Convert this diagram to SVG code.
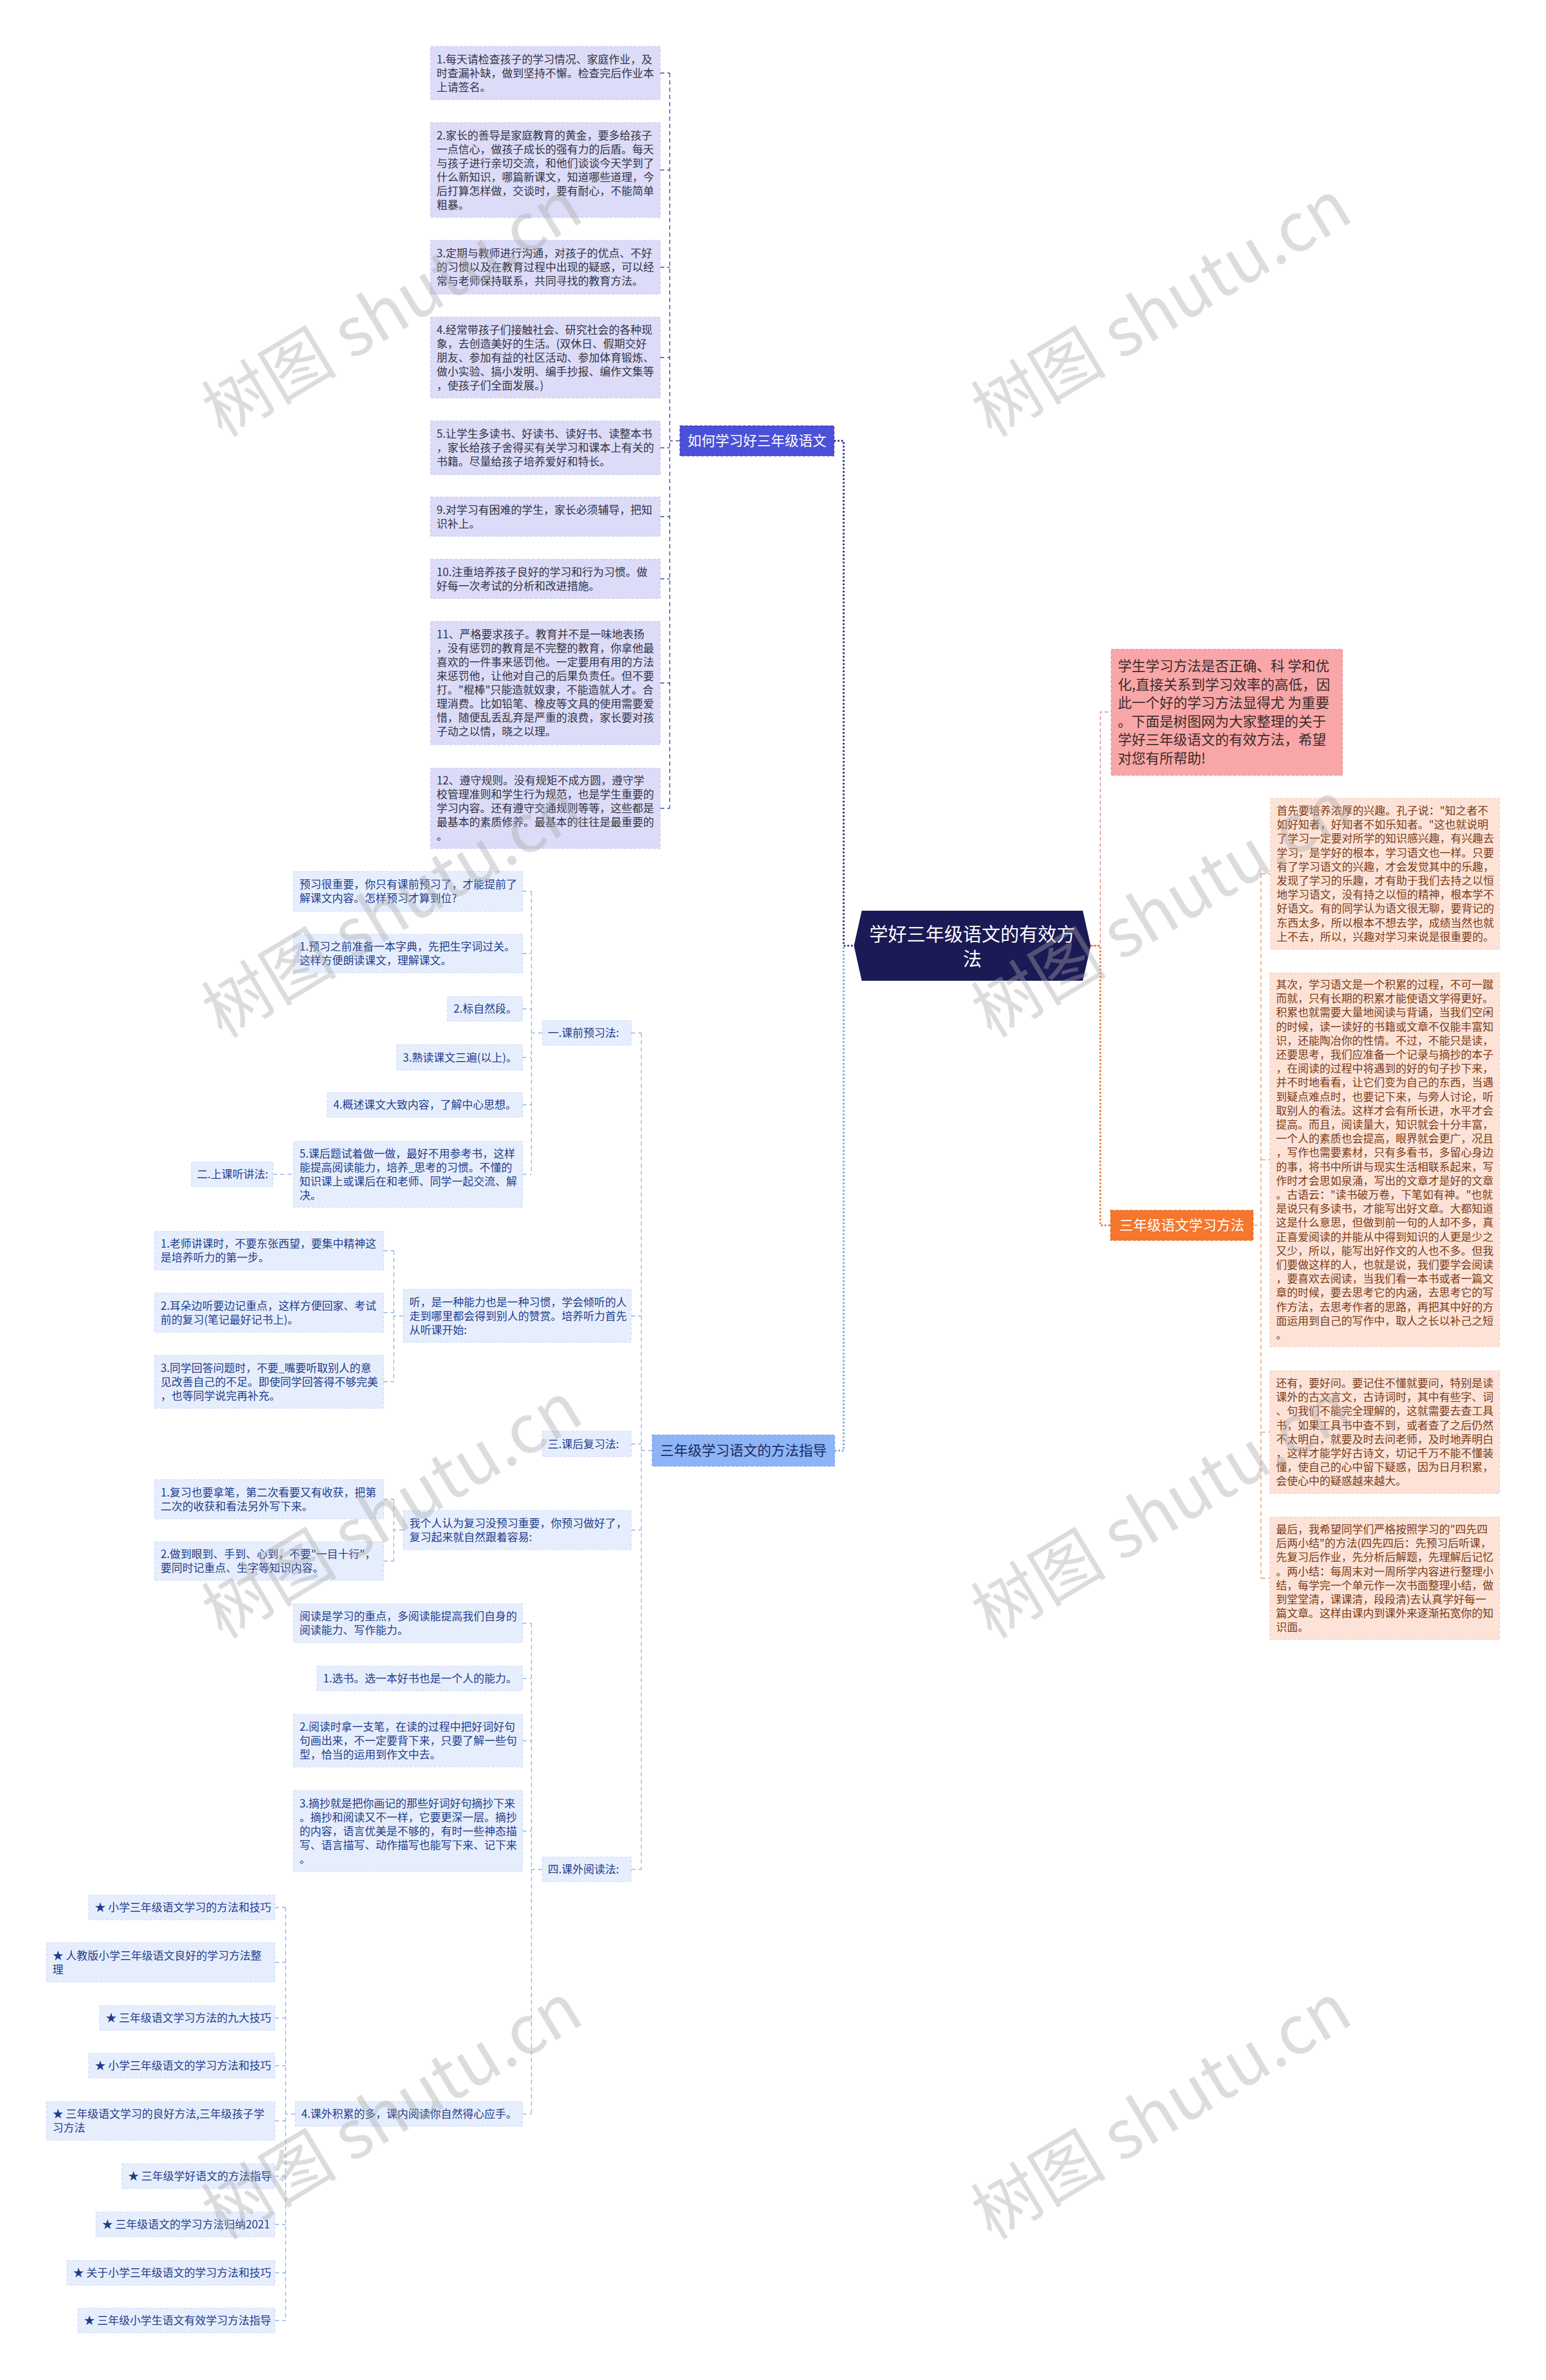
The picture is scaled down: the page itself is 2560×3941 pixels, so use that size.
<svg xmlns="http://www.w3.org/2000/svg" width="2560" height="3941" viewBox="0 0 2560 3941">
<style>
text{font-family:"Noto Sans CJK SC","Noto Sans",sans-serif;}
.t18{font-size:18px;}
.lav rect{fill:#dcdcf8;stroke:#c4c5ef;stroke-width:1.2;stroke-dasharray:5 3;}
.lav text{fill:#333344;}
.blu rect{fill:#e6eefd;stroke:#c9d9f7;stroke-width:1.2;stroke-dasharray:5 3;}
.blu text{fill:#1e3c8c;}
.pch rect{fill:#fde3d7;stroke:#f5c8b4;stroke-width:1.2;stroke-dasharray:5 3;}
.pch text{fill:#7a3b18;}
.cn path{fill:none;}
.c1{stroke:#3b3e98;stroke-width:1.4;stroke-dasharray:7 5;}
.c3{stroke:#8fb0ee;stroke-width:1.4;stroke-dasharray:7 5;}
.cr{stroke:#ec9660;stroke-width:1.4;stroke-dasharray:7 5;}
.wm{font-family:"Liberation Serif","Noto Sans CJK SC",serif;font-size:112px;fill:#a8a8a8;opacity:0.4;}
</style>
<rect x="0" y="0" width="2560" height="3941" fill="#ffffff"/>

<g id="connectors" class="cn">
  <path class="c1" d="M1126 730H1109M1109 121V1338.5M1093 121H1109M1093 281.5H1109M1093 442.5H1109M1093 592H1109M1093 741.5H1109M1093 855.5H1109M1093 958.5H1109M1093 1131H1109M1093 1338.5H1109"/>
  <path d="M1381 730H1397V1566H1414" stroke="#2f3290" stroke-width="3" stroke-dasharray="3 3" fill="none"/>
  <path d="M1382 2402H1397V1566" stroke="#7ea6ee" stroke-width="3" stroke-dasharray="3 3" fill="none"/>
  <path d="M1806 1566H1822V1179H1840" stroke="#f2a3a3" stroke-width="2" stroke-dasharray="6 4" fill="none"/>
  <path d="M1806 1566H1822V2029H1839" stroke="#ef7a32" stroke-width="3" stroke-dasharray="3 3" fill="none"/>
  <path class="cr" d="M2075 2029H2088M2088 1447V2613.5M2088 1447H2104M2088 1920.5H2103M2088 2371.5H2103M2088 2613.5H2103"/>
  <path class="c3" d="M1080 2402H1062M1062 1710.5V3095.5M1045 1710.5H1062M1045 2179H1062M1045 2391H1062M1045 2533.5H1062M1045 3095.5H1062"/>
  <path class="c3" d="M880 1476V1944.5M865 1476H880M865 1579H880M865 1670.5H880M865 1751H880M865 1829.5H880M865 1944.5H880M898 1710.5H880"/>
  <path class="c3" d="M452 1944.5H486"/>
  <path class="c3" d="M652 2071V2288M635 2071H652M635 2173.5H652M635 2288H652M668 2179H652"/>
  <path class="c3" d="M652 2482.5V2585M635 2482.5H652M635 2585H652M668 2533.5H652"/>
  <path class="c3" d="M880 2688V3500.5M865 2688H880M865 2779.5H880M865 2882.5H880M865 3032H880M865 3500.5H880M898 3095.5H880"/>
  <path class="c3" d="M473 3158.5V3842.5M489 3500.5H473M455 3158.5H473M455 3249.5H473M455 3341.5H473M455 3420.5H473M455 3512H473M455 3603.5H473M455 3683.5H473M455 3763.5H473M455 3842.5H473"/>
</g>

<g id="root">
  <polygon points="1414,1566 1427,1508 1793,1508 1806,1566 1793,1624 1427,1624" fill="#1b1a56"/>
  <text x="1610" y="1558" text-anchor="middle" font-size="31" fill="#ffffff">学好三年级语文的有效方</text>
  <text x="1610" y="1599" text-anchor="middle" font-size="31" fill="#ffffff">法</text>
</g>

<g id="branch-how">
  <rect x="1126" y="705" width="255" height="50" fill="#4b50d9" stroke="#3236a8" stroke-width="1.2" stroke-dasharray="5 3"/>
  <text x="1253.5" y="738" text-anchor="middle" font-size="23" fill="#ffffff">如何学习好三年级语文</text>
</g>
<g id="branch-guide">
  <rect x="1080" y="2376" width="302" height="52" fill="#8db4f6" stroke="#7aa2ea" stroke-width="1.2" stroke-dasharray="5 3"/>
  <text x="1231" y="2410" text-anchor="middle" font-size="23" fill="#1b2a5e">三年级学习语文的方法指导</text>
</g>
<g id="intro">
  <rect x="1840" y="1075" width="383" height="209" fill="#f8a6a7" stroke="#f08f90" stroke-width="1.2" stroke-dasharray="5 3"/>
  <text font-size="23" fill="#3a2b2b"><tspan x="1851" y="1111">学生学习方法是否正确、科 学和优</tspan><tspan x="1851" dy="30.5">化,直接关系到学习效率的高低，因</tspan><tspan x="1851" dy="30.5">此一个好的学习方法显得尤 为重要</tspan><tspan x="1851" dy="30.5">。下面是树图网为大家整理的关于</tspan><tspan x="1851" dy="30.5">学好三年级语文的有效方法，希望</tspan><tspan x="1851" dy="30.5">对您有所帮助!</tspan></text>
</g>
<g id="branch-method">
  <rect x="1839" y="2004" width="236" height="50" fill="#f5762d" stroke="#e0611a" stroke-width="1.2" stroke-dasharray="5 3"/>
  <text x="1957" y="2037" text-anchor="middle" font-size="23" fill="#ffffff">三年级语文学习方法</text>
</g>

<g id="n1" class="lav t18"><rect x="713" y="77" width="380" height="88"/><text><tspan x="723" y="104.5">1.每天请检查孩子的学习情况、家庭作业，及</tspan><tspan x="723" dy="23">时查漏补缺，做到坚持不懈。检查完后作业本</tspan><tspan x="723" dy="23">上请签名。</tspan></text></g>
<g id="n2" class="lav t18"><rect x="713" y="203" width="380" height="157"/><text><tspan x="723" y="230.5">2.家长的善导是家庭教育的黄金，要多给孩子</tspan><tspan x="723" dy="23">一点信心，做孩子成长的强有力的后盾。每天</tspan><tspan x="723" dy="23">与孩子进行亲切交流，和他们谈谈今天学到了</tspan><tspan x="723" dy="23">什么新知识，哪篇新课文，知道哪些道理，今</tspan><tspan x="723" dy="23">后打算怎样做，交谈时，要有耐心，不能简单</tspan><tspan x="723" dy="23">粗暴。</tspan></text></g>
<g id="n3" class="lav t18"><rect x="713" y="398" width="380" height="89"/><text><tspan x="723" y="426">3.定期与教师进行沟通，对孩子的优点、不好</tspan><tspan x="723" dy="23">的习惯以及在教育过程中出现的疑惑，可以经</tspan><tspan x="723" dy="23">常与老师保持联系，共同寻找的教育方法。</tspan></text></g>
<g id="n4" class="lav t18"><rect x="713" y="525" width="380" height="134"/><text><tspan x="723" y="552.5">4.经常带孩子们接触社会、研究社会的各种现</tspan><tspan x="723" dy="23">象，去创造美好的生活。(双休日、假期交好</tspan><tspan x="723" dy="23">朋友、参加有益的社区活动、参加体育锻炼、</tspan><tspan x="723" dy="23">做小实验、搞小发明、编手抄报、编作文集等</tspan><tspan x="723" dy="23">，使孩子们全面发展。)</tspan></text></g>
<g id="n5" class="lav t18"><rect x="713" y="697" width="380" height="89"/><text><tspan x="723" y="725">5.让学生多读书、好读书、读好书、读整本书</tspan><tspan x="723" dy="23">，家长给孩子舍得买有关学习和课本上有关的</tspan><tspan x="723" dy="23">书籍。尽量给孩子培养爱好和特长。</tspan></text></g>
<g id="n9" class="lav t18"><rect x="713" y="823" width="380" height="65"/><text><tspan x="723" y="850.5">9.对学习有困难的学生，家长必须辅导，把知</tspan><tspan x="723" dy="23">识补上。</tspan></text></g>
<g id="n10" class="lav t18"><rect x="713" y="926" width="380" height="65"/><text><tspan x="723" y="953.5">10.注重培养孩子良好的学习和行为习惯。做</tspan><tspan x="723" dy="23">好每一次考试的分析和改进措施。</tspan></text></g>
<g id="n11" class="lav t18"><rect x="713" y="1029" width="380" height="204"/><text><tspan x="723" y="1057">11、严格要求孩子。教育并不是一味地表扬</tspan><tspan x="723" dy="23">，没有惩罚的教育是不完整的教育，你拿他最</tspan><tspan x="723" dy="23">喜欢的一件事来惩罚他。一定要用有用的方法</tspan><tspan x="723" dy="23">来惩罚他，让他对自己的后果负责任。但不要</tspan><tspan x="723" dy="23">打。"棍棒"只能造就奴隶，不能造就人才。合</tspan><tspan x="723" dy="23">理消费。比如铅笔、橡皮等文具的使用需要爱</tspan><tspan x="723" dy="23">惜，随便乱丢乱弃是严重的浪费，家长要对孩</tspan><tspan x="723" dy="23">子动之以情，晓之以理。</tspan></text></g>
<g id="n12" class="lav t18"><rect x="713" y="1272" width="380" height="133"/><text><tspan x="723" y="1299">12、遵守规则。没有规矩不成方圆，遵守学</tspan><tspan x="723" dy="23">校管理准则和学生行为规范，也是学生重要的</tspan><tspan x="723" dy="23">学习内容。还有遵守交通规则等等，这些都是</tspan><tspan x="723" dy="23">最基本的素质修养。最基本的往往是最重要的</tspan><tspan x="723" dy="23">。</tspan></text></g>

<g id="r1" class="pch t18"><rect x="2104" y="1322" width="379" height="250"/><text><tspan x="2114" y="1349">首先要培养浓厚的兴趣。孔子说："知之者不</tspan><tspan x="2114" dy="23.2">如好知者，好知者不如乐知者。"这也就说明</tspan><tspan x="2114" dy="23.2">了学习一定要对所学的知识感兴趣，有兴趣去</tspan><tspan x="2114" dy="23.2">学习，是学好的根本，学习语文也一样。只要</tspan><tspan x="2114" dy="23.2">有了学习语文的兴趣，才会发觉其中的乐趣，</tspan><tspan x="2114" dy="23.2">发现了学习的乐趣，才有助于我们去持之以恒</tspan><tspan x="2114" dy="23.2">地学习语文，没有持之以恒的精神，根本学不</tspan><tspan x="2114" dy="23.2">好语文。有的同学认为语文很无聊，要背记的</tspan><tspan x="2114" dy="23.2">东西太多，所以根本不想去学，成绩当然也就</tspan><tspan x="2114" dy="23.2">上不去，所以，兴趣对学习来说是很重要的。</tspan></text></g>
<g id="r2" class="pch t18"><rect x="2103" y="1611" width="380" height="619"/><text><tspan x="2113" y="1637">其次，学习语文是一个积累的过程，不可一蹴</tspan><tspan x="2113" dy="23.2">而就，只有长期的积累才能使语文学得更好。</tspan><tspan x="2113" dy="23.2">积累也就需要大量地阅读与背诵，当我们空闲</tspan><tspan x="2113" dy="23.2">的时候，读一读好的书籍或文章不仅能丰富知</tspan><tspan x="2113" dy="23.2">识，还能陶冶你的性情。不过，不能只是读，</tspan><tspan x="2113" dy="23.2">还要思考，我们应准备一个记录与摘抄的本子</tspan><tspan x="2113" dy="23.2">，在阅读的过程中将遇到的好的句子抄下来，</tspan><tspan x="2113" dy="23.2">并不时地看看，让它们变为自己的东西，当遇</tspan><tspan x="2113" dy="23.2">到疑点难点时，也要记下来，与旁人讨论，听</tspan><tspan x="2113" dy="23.2">取别人的看法。这样才会有所长进，水平才会</tspan><tspan x="2113" dy="23.2">提高。而且，阅读量大，知识就会十分丰富，</tspan><tspan x="2113" dy="23.2">一个人的素质也会提高，眼界就会更广，况且</tspan><tspan x="2113" dy="23.2">，写作也需要素材，只有多看书，多留心身边</tspan><tspan x="2113" dy="23.2">的事，将书中所讲与现实生活相联系起来，写</tspan><tspan x="2113" dy="23.2">作时才会思如泉涌，写出的文章才是好的文章</tspan><tspan x="2113" dy="23.2">。古语云："读书破万卷，下笔如有神。"也就</tspan><tspan x="2113" dy="23.2">是说只有多读书，才能写出好文章。大都知道</tspan><tspan x="2113" dy="23.2">这是什么意思，但做到前一句的人却不多，真</tspan><tspan x="2113" dy="23.2">正喜爱阅读的并能从中得到知识的人更是少之</tspan><tspan x="2113" dy="23.2">又少，所以，能写出好作文的人也不多。但我</tspan><tspan x="2113" dy="23.2">们要做这样的人，也就是说，我们要学会阅读</tspan><tspan x="2113" dy="23.2">，要喜欢去阅读，当我们看一本书或者一篇文</tspan><tspan x="2113" dy="23.2">章的时候，要去思考它的内涵，去思考它的写</tspan><tspan x="2113" dy="23.2">作方法，去思考作者的思路，再把其中好的方</tspan><tspan x="2113" dy="23.2">面运用到自己的写作中，取人之长以补己之短</tspan><tspan x="2113" dy="23.2">。</tspan></text></g>
<g id="r3" class="pch t18"><rect x="2103" y="2270" width="380" height="203"/><text><tspan x="2113" y="2297">还有，要好问。要记住不懂就要问，特别是读</tspan><tspan x="2113" dy="23.2">课外的古文言文，古诗词时，其中有些字、词</tspan><tspan x="2113" dy="23.2">、句我们不能完全理解的，这就需要去查工具</tspan><tspan x="2113" dy="23.2">书，如果工具书中查不到，或者查了之后仍然</tspan><tspan x="2113" dy="23.2">不太明白，就要及时去问老师，及时地弄明白</tspan><tspan x="2113" dy="23.2">，这样才能学好古诗文，切记千万不能不懂装</tspan><tspan x="2113" dy="23.2">懂，使自己的心中留下疑惑，因为日月积累，</tspan><tspan x="2113" dy="23.2">会使心中的疑惑越来越大。</tspan></text></g>
<g id="r4" class="pch t18"><rect x="2103" y="2512" width="380" height="203"/><text><tspan x="2113" y="2539">最后，我希望同学们严格按照学习的"四先四</tspan><tspan x="2113" dy="23.2">后两小结"的方法(四先四后：先预习后听课，</tspan><tspan x="2113" dy="23.2">先复习后作业，先分析后解题，先理解后记忆</tspan><tspan x="2113" dy="23.2">。两小结：每周末对一周所学内容进行整理小</tspan><tspan x="2113" dy="23.2">结，每学完一个单元作一次书面整理小结，做</tspan><tspan x="2113" dy="23.2">到堂堂清，课课清，段段清)去认真学好每一</tspan><tspan x="2113" dy="23.2">篇文章。这样由课内到课外来逐渐拓宽你的知</tspan><tspan x="2113" dy="23.2">识面。</tspan></text></g>

<g id="s1" class="blu t18"><rect x="898" y="1690" width="147" height="41"/><text x="907" y="1717">一.课前预习法:</text></g>
<g id="p0" class="blu t18"><rect x="486" y="1443" width="379" height="66"/><text><tspan x="496" y="1471">预习很重要，你只有课前预习了，才能提前了</tspan><tspan x="496" dy="23">解课文内容。怎样预习才算到位?</tspan></text></g>
<g id="p1" class="blu t18"><rect x="486" y="1547" width="379" height="64"/><text><tspan x="496" y="1574">1.预习之前准备一本字典，先把生字词过关。</tspan><tspan x="496" dy="23">这样方便朗读课文，理解课文。</tspan></text></g>
<g id="p2" class="blu t18"><rect x="741" y="1650" width="124" height="41"/><text x="751" y="1677">2.标自然段。</text></g>
<g id="p3" class="blu t18"><rect x="657" y="1730" width="208" height="42"/><text x="667" y="1757.5">3.熟读课文三遍(以上)。</text></g>
<g id="p4" class="blu t18"><rect x="542" y="1809" width="323" height="41"/><text x="552" y="1836">4.概述课文大致内容，了解中心思想。</text></g>
<g id="p5" class="blu t18"><rect x="486" y="1890" width="379" height="109"/><text><tspan x="496" y="1916.5">5.课后题试着做一做，最好不用参考书，这样</tspan><tspan x="496" dy="23">能提高阅读能力，培养_思考的习惯。不懂的</tspan><tspan x="496" dy="23">知识课上或课后在和老师、同学一起交流、解</tspan><tspan x="496" dy="23">决。</tspan></text></g>
<g id="s2" class="blu t18"><rect x="317" y="1924" width="135" height="41"/><text x="326" y="1951">二.上课听讲法:</text></g>
<g id="l0" class="blu t18"><rect x="668" y="2135" width="377" height="88"/><text><tspan x="678" y="2162.5">听，是一种能力也是一种习惯，学会倾听的人</tspan><tspan x="678" dy="23">走到哪里都会得到别人的赞赏。培养听力首先</tspan><tspan x="678" dy="23">从听课开始:</tspan></text></g>
<g id="l1" class="blu t18"><rect x="256" y="2039" width="379" height="64"/><text><tspan x="266" y="2066">1.老师讲课时，不要东张西望，要集中精神这</tspan><tspan x="266" dy="23">是培养听力的第一步。</tspan></text></g>
<g id="l2" class="blu t18"><rect x="256" y="2141" width="379" height="65"/><text><tspan x="266" y="2168.5">2.耳朵边听要边记重点，这样方便回家、考试</tspan><tspan x="266" dy="23">前的复习(笔记最好记书上)。</tspan></text></g>
<g id="l3" class="blu t18"><rect x="256" y="2244" width="379" height="88"/><text><tspan x="266" y="2271.5">3.同学回答问题时，不要_嘴要听取别人的意</tspan><tspan x="266" dy="23">见改善自己的不足。即使同学回答得不够完美</tspan><tspan x="266" dy="23">，也等同学说完再补充。</tspan></text></g>
<g id="s3" class="blu t18"><rect x="898" y="2370" width="147" height="42"/><text x="907" y="2397.5">三.课后复习法:</text></g>
<g id="f0" class="blu t18"><rect x="668" y="2501" width="377" height="65"/><text><tspan x="678" y="2528.5">我个人认为复习没预习重要，你预习做好了，</tspan><tspan x="678" dy="23">复习起来就自然跟着容易:</tspan></text></g>
<g id="f1" class="blu t18"><rect x="256" y="2450" width="379" height="65"/><text><tspan x="266" y="2477.5">1.复习也要拿笔，第二次看要又有收获，把第</tspan><tspan x="266" dy="23">二次的收获和看法另外写下来。</tspan></text></g>
<g id="f2" class="blu t18"><rect x="256" y="2553" width="379" height="64"/><text><tspan x="266" y="2580">2.做到眼到、手到、心到，不要"一目十行"，</tspan><tspan x="266" dy="23">要同时记重点、生字等知识内容。</tspan></text></g>
<g id="s4" class="blu t18"><rect x="898" y="3075" width="147" height="41"/><text x="907" y="3102">四.课外阅读法:</text></g>
<g id="y0" class="blu t18"><rect x="486" y="2656" width="379" height="64"/><text><tspan x="496" y="2683">阅读是学习的重点，多阅读能提高我们自身的</tspan><tspan x="496" dy="23">阅读能力、写作能力。</tspan></text></g>
<g id="y1" class="blu t18"><rect x="525" y="2759" width="340" height="41"/><text x="535" y="2786">1.选书。选一本好书也是一个人的能力。</text></g>
<g id="y2" class="blu t18"><rect x="486" y="2839" width="379" height="87"/><text><tspan x="496" y="2866">2.阅读时拿一支笔，在读的过程中把好词好句</tspan><tspan x="496" dy="23">句画出来，不一定要背下来，只要了解一些句</tspan><tspan x="496" dy="23">型，恰当的运用到作文中去。</tspan></text></g>
<g id="y3" class="blu t18"><rect x="486" y="2965" width="379" height="134"/><text><tspan x="496" y="2992.5">3.摘抄就是把你画记的那些好词好句摘抄下来</tspan><tspan x="496" dy="23">。摘抄和阅读又不一样，它要更深一层。摘抄</tspan><tspan x="496" dy="23">的内容，语言优美是不够的，有时一些神态描</tspan><tspan x="496" dy="23">写、语言描写、动作描写也能写下来、记下来</tspan><tspan x="496" dy="23">。</tspan></text></g>
<g id="y4" class="blu t18"><rect x="489" y="3480" width="376" height="41"/><text x="499" y="3507">4.课外积累的多，课内阅读你自然得心应手。</text></g>
<g id="st1" class="blu t18"><rect x="147" y="3138" width="308" height="41"/><text x="157" y="3165">★ 小学三年级语文学习的方法和技巧</text></g>
<g id="st2" class="blu t18"><rect x="77" y="3217" width="378" height="65"/><text><tspan x="87" y="3244.5">★ 人教版小学三年级语文良好的学习方法整</tspan><tspan x="87" dy="23">理</tspan></text></g>
<g id="st3" class="blu t18"><rect x="165" y="3321" width="290" height="41"/><text x="175" y="3348">★ 三年级语文学习方法的九大技巧</text></g>
<g id="st4" class="blu t18"><rect x="147" y="3400" width="308" height="41"/><text x="157" y="3427">★ 小学三年级语文的学习方法和技巧</text></g>
<g id="st5" class="blu t18"><rect x="77" y="3480" width="378" height="64"/><text><tspan x="87" y="3507">★ 三年级语文学习的良好方法,三年级孩子学</tspan><tspan x="87" dy="23">习方法</tspan></text></g>
<g id="st6" class="blu t18"><rect x="202" y="3583" width="253" height="41"/><text x="212" y="3610">★ 三年级学好语文的方法指导</text></g>
<g id="st7" class="blu t18"><rect x="159" y="3663" width="296" height="41"/><text x="169" y="3690">★ 三年级语文的学习方法归纳2021</text></g>
<g id="st8" class="blu t18"><rect x="111" y="3743" width="344" height="41"/><text x="121" y="3770">★ 关于小学三年级语文的学习方法和技巧</text></g>
<g id="st9" class="blu t18"><rect x="129" y="3822" width="326" height="41"/><text x="139" y="3849">★ 三年级小学生语文有效学习方法指导</text></g>

<g id="watermarks" class="wm" text-anchor="middle">
  <text transform="translate(650 512) rotate(-31)" y="38">树图 shutu.cn</text>
  <text transform="translate(1924 512) rotate(-31)" y="38">树图 shutu.cn</text>
  <text transform="translate(650 1507) rotate(-31)" y="38">树图 shutu.cn</text>
  <text transform="translate(1924 1507) rotate(-31)" y="38">树图 shutu.cn</text>
  <text transform="translate(650 2502) rotate(-31)" y="38">树图 shutu.cn</text>
  <text transform="translate(1924 2502) rotate(-31)" y="38">树图 shutu.cn</text>
  <text transform="translate(650 3497) rotate(-31)" y="38">树图 shutu.cn</text>
  <text transform="translate(1924 3497) rotate(-31)" y="38">树图 shutu.cn</text>
</g>
</svg>
